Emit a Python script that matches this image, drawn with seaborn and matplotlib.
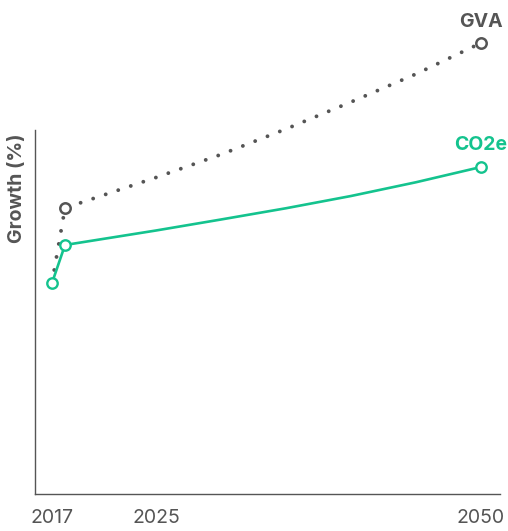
import matplotlib
matplotlib.use("Agg")
import matplotlib.pyplot as plt
import seaborn as sns
import pandas as pd

# Growth since 2017 (%)
years = [2017, 2018, 2025, 2030, 2035, 2040, 2045, 2050]
gva_growth = [0.0, 30.0, 42.2, 51.4, 61.6, 72.4, 83.6, 96.0]
co2e_growth = [0.0, 15.2, 21.0, 25.4, 29.9, 34.8, 40.3, 46.4]
tick_years = [2017, 2025, 2050]
series_names = ["GVA", "CO2e"]

GREY = "#555555"
GREEN = "#14C38E"

sns.set_style("white")
plt.rcParams["font.family"] = ["Inter", "DejaVu Sans"]

df = pd.DataFrame({"year": years, "GVA": gva_growth, "CO2e": co2e_growth})

fig = plt.figure(figsize=(5.08, 5.31), dpi=100)
ax = fig.add_axes([35 / 508, 37 / 531, 465 / 508, 484 / 531])

# GVA: dotted grey line, open markers at 2018 and 2050
sns.lineplot(data=df, x="year", y="GVA", ax=ax, color=GREY, lw=2.8,
             marker="o", markersize=7.5, markerfacecolor="white",
             markeredgecolor=GREY, markeredgewidth=1.8,
             markevery=[1, len(years) - 1], zorder=2)
gva_line = ax.lines[-1]
gva_line.set_linestyle((0, (0.001, 3.4)))
gva_line.set_dash_capstyle("round")

# CO2e: solid green line, open markers at 2017, 2018 and 2050
sns.lineplot(data=df, x="year", y="CO2e", ax=ax, color=GREEN, lw=1.9,
             marker="o", markersize=7.5, markerfacecolor="white",
             markeredgecolor=GREEN, markeredgewidth=1.7,
             markevery=[0, 1, len(years) - 1], zorder=3)

for name, vals, col in zip(series_names, [gva_growth, co2e_growth], [GREY, GREEN]):
    ax.annotate(name, (years[-1], vals[-1]), xytext=(0, 9),
                textcoords="offset points", ha="center", va="bottom",
                fontsize=14, fontweight="bold", color=col)

ax.set_xlim(2017 - 17 / 13, 2017 + 448 / 13)
ax.set_ylim(-84.4, 109.2)
ax.set_xticks(tick_years)
ax.set_xticklabels([str(y) for y in tick_years])
ax.set_yticks([])
ax.set_xlabel("")
ax.set_ylabel("")
ax.tick_params(axis="x", length=0, pad=11, labelsize=14, labelcolor=GREY)

for side in ["top", "right"]:
    ax.spines[side].set_visible(False)
for side in ["left", "bottom"]:
    ax.spines[side].set_color(GREY)
    ax.spines[side].set_linewidth(1.0)
ax.spines["left"].set_bounds(-84.4, 61.2)

fig.text(17 / 508, 1 - 188 / 531, "Growth (%)", rotation=90,
         ha="center", va="center", fontsize=14, fontweight="bold",
         color=GREY)

fig.savefig("out.png", dpi=100)
